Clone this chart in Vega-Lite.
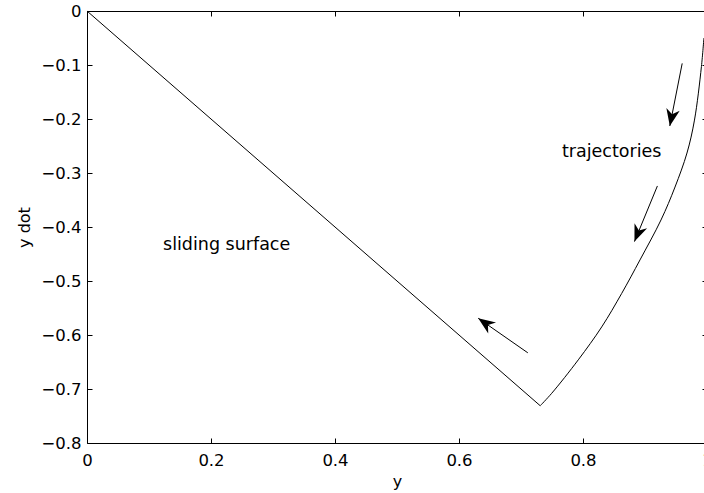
{
  "$schema": "https://vega.github.io/schema/vega-lite/v6.json",
  "width": 620,
  "height": 432,
  "autosize": {"type": "none"},
  "padding": {"left": 87, "top": 11, "right": 0, "bottom": 50},
  "background": "white",
  "config": {
    "view": {"stroke": null},
    "axis": {
      "domainColor": "black",
      "domainWidth": 1,
      "tickColor": "black",
      "tickWidth": 1,
      "tickSize": -5,
      "labelColor": "black",
      "titleColor": "black",
      "labelFont": "DejaVu Sans",
      "titleFont": "DejaVu Sans",
      "labelFontSize": 16.5,
      "titleFontSize": 16,
      "titleFontWeight": "normal",
      "grid": false
    }
  },
  "datasets": {
    "trajectory": [
      {"seg": "reach", "t": 0, "pos": 0.995, "vel": -0.05},
      {"seg": "reach", "t": 1, "pos": 0.991, "vel": -0.103},
      {"seg": "reach", "t": 2, "pos": 0.9798, "vel": -0.202},
      {"seg": "reach", "t": 3, "pos": 0.9677, "vel": -0.263},
      {"seg": "reach", "t": 4, "pos": 0.9484, "vel": -0.326},
      {"seg": "reach", "t": 5, "pos": 0.9258, "vel": -0.387},
      {"seg": "reach", "t": 6, "pos": 0.8919, "vel": -0.461},
      {"seg": "reach", "t": 7, "pos": 0.8624, "vel": -0.523},
      {"seg": "reach", "t": 8, "pos": 0.8302, "vel": -0.585},
      {"seg": "reach", "t": 9, "pos": 0.7924, "vel": -0.646},
      {"seg": "reach", "t": 10, "pos": 0.7495, "vel": -0.708},
      {"seg": "reach", "t": 11, "pos": 0.731, "vel": -0.731},
      {"seg": "slide", "t": 11, "pos": 0.731, "vel": -0.731},
      {"seg": "slide", "t": 12, "pos": 0, "vel": 0}
    ],
    "arrows": [
      {"id": "a1", "pos0": 0.96, "vel0": -0.097, "pos1": 0.94, "vel1": -0.213},
      {"id": "a2", "pos0": 0.92, "vel0": -0.324, "pos1": 0.883, "vel1": -0.427},
      {"id": "a3", "pos0": 0.711, "vel0": -0.633, "pos1": 0.631, "vel1": -0.569}
    ],
    "notes": [
      {"label": "trajectories", "pos": 0.766, "vel": -0.27},
      {"label": "sliding surface", "pos": 0.1226, "vel": -0.443}
    ]
  },
  "layer": [
    {
      "data": {"name": "trajectory"},
      "mark": {"type": "line", "color": "black", "strokeWidth": 1, "interpolate": "catmull-rom"},
      "encoding": {
        "x": {
          "field": "pos", "type": "quantitative",
          "scale": {"domain": [0, 1], "nice": false, "zero": false},
          "axis": {
            "orient": "bottom", "title": "y",
            "values": [0, 0.2, 0.4, 0.6, 0.8, 1], "format": "~g",
            "labelPadding": 14, "labelFlush": false,
            "titleX": 310, "titleY": 43, "titleBaseline": "alphabetic"
          }
        },
        "y": {
          "field": "vel", "type": "quantitative",
          "scale": {"domain": [-0.8, 0], "nice": false, "zero": false},
          "axis": {
            "orient": "left", "title": "y dot",
            "values": [0, -0.1, -0.2, -0.3, -0.4, -0.5, -0.6, -0.7, -0.8], "format": "~g",
            "labelPadding": 11, "labelFlush": false,
            "titleX": -57.5, "titleY": 216, "titleAngle": -90,
            "titleAlign": "center", "titleBaseline": "alphabetic"
          }
        },
        "detail": {"field": "seg", "type": "nominal"},
        "order": {"field": "t", "type": "quantitative"}
      }
    },
    {
      "data": {"name": "trajectory"},
      "mark": {"type": "line", "strokeOpacity": 0},
      "encoding": {
        "x": {
          "field": "pos", "type": "quantitative",
          "axis": {"orient": "top", "title": null, "labels": false, "values": [0, 0.2, 0.4, 0.6, 0.8, 1]}
        },
        "y": {
          "field": "vel", "type": "quantitative",
          "axis": {"orient": "right", "title": null, "labels": false, "values": [0, -0.1, -0.2, -0.3, -0.4, -0.5, -0.6, -0.7, -0.8]}
        },
        "detail": {"field": "seg", "type": "nominal"},
        "order": {"field": "t", "type": "quantitative"}
      }
    },
    {
      "data": {"name": "arrows"},
      "mark": {"type": "rule", "color": "black", "strokeWidth": 1},
      "encoding": {
        "x": {"field": "pos0", "type": "quantitative", "axis": null},
        "y": {"field": "vel0", "type": "quantitative", "axis": null},
        "x2": {"field": "pos1"},
        "y2": {"field": "vel1"}
      }
    },
    {
      "data": {"name": "arrows"},
      "transform": [{"filter": "datum.id === 'a1'"}],
      "mark": {"type": "point", "shape": "M0,0L0.8,2L0,1.4L-0.8,2Z", "angle": 191, "size": 289, "filled": true, "color": "black", "opacity": 1},
      "encoding": {
        "x": {"field": "pos1", "type": "quantitative", "axis": null},
        "y": {"field": "vel1", "type": "quantitative", "axis": null}
      }
    },
    {
      "data": {"name": "arrows"},
      "transform": [{"filter": "datum.id === 'a2'"}],
      "mark": {"type": "point", "shape": "M0,0L0.8,2L0,1.4L-0.8,2Z", "angle": 202, "size": 289, "filled": true, "color": "black", "opacity": 1},
      "encoding": {
        "x": {"field": "pos1", "type": "quantitative", "axis": null},
        "y": {"field": "vel1", "type": "quantitative", "axis": null}
      }
    },
    {
      "data": {"name": "arrows"},
      "transform": [{"filter": "datum.id === 'a3'"}],
      "mark": {"type": "point", "shape": "M0,0L0.8,2L0,1.4L-0.8,2Z", "angle": 305, "size": 289, "filled": true, "color": "black", "opacity": 1},
      "encoding": {
        "x": {"field": "pos1", "type": "quantitative", "axis": null},
        "y": {"field": "vel1", "type": "quantitative", "axis": null}
      }
    },
    {
      "data": {"name": "notes"},
      "mark": {"type": "text", "align": "left", "baseline": "alphabetic", "font": "DejaVu Sans", "fontSize": 17.5, "color": "black"},
      "encoding": {
        "x": {"field": "pos", "type": "quantitative", "axis": null},
        "y": {"field": "vel", "type": "quantitative", "axis": null},
        "text": {"field": "label"}
      }
    }
  ],
  "resolve": {"axis": {"x": "independent", "y": "independent"}}
}
